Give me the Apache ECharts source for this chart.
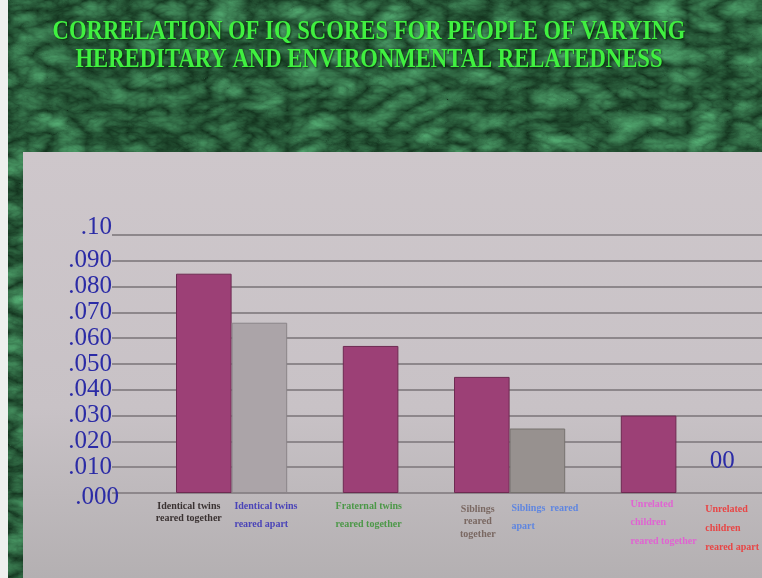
<!DOCTYPE html>
<html>
<head>
<meta charset="utf-8">
<title>Correlation of IQ scores</title>
<script src="https://cdn.jsdelivr.net/npm/echarts@6/dist/echarts.min.js"></script>
<style>
  html, body { margin: 0; padding: 0; width: 762px; height: 578px; overflow: hidden; background: #eef0ee; }
  #slide { position: absolute; left: 8px; top: 0; width: 754px; height: 578px; background-color: #1f4629; }
  #chart { position: absolute; left: 0; top: 0; width: 762px; height: 578px; }
</style>
</head>
<body>
<div id="slide"></div>
<div id="chart"></div>
<script>
// ---- chart data ----
const tickLabels = ['.000', '.010', '.020', '.030', '.040', '.050', '.060', '.070', '.080', '.090', '.10'];
const groups = [
  'Identical twins\nreared together',
  'Identical twins\nreared apart',
  'Fraternal twins\nreared together',
  'Siblings\nreared\ntogether',
  'Siblings  reared\napart',
  'Unrelated\nchildren\nreared together',
  'Unrelated\nchildren\nreared apart'
];
const correlations = [0.085, 0.066, 0.057, 0.045, 0.025, 0.030, 0.000];

// ---- layout: which slot of the bar row each group occupies ----
const slotCount = 10;
const slotOf = [0, 1, 3, 5, 6, 8, 9];

// ---- styling per group ----
const barColors = ['#9c4076', '#aba4a8', '#9c4076', '#9c4076', '#97918f', '#9c4076', '#9c4076'];
const barBorders = ['#6e2a52', '#8a8488', '#6e2a52', '#6e2a52', '#77726f', '#6e2a52', 'transparent'];
const labelColors = ['#3a3232', '#4a44b8', '#4c9848', '#7a6862', '#5f86e0', '#e064d2', '#e84646'];
const labelAlign = ['center', 'left', 'left', 'center', 'left', 'left', 'left'];
const labelOffset = [[-15, 7], [-25, 4], [-35, 4], [-4, 10], [-26, 6], [-18, 2], [1, 6]];
const labelLineHeight = [12, 18, 18, 12.5, 18, 18.5, 19];

// marbled green backdrop of the slide
(function () {
  const svg = "<svg xmlns='http://www.w3.org/2000/svg' width='754' height='578'>" +
    "<filter id='m' color-interpolation-filters='sRGB'>" +
    "<feTurbulence type='turbulence' baseFrequency='0.025 0.045' numOctaves='4' seed='7'/>" +
    "<feColorMatrix type='matrix' values='0.32 0 0 0 0.07  0.6 0 0 0 0.19  0.42 0 0 0 0.11  0 0 0 0 1'/></filter>" +
    "<rect width='100%' height='100%' filter='url(#m)'/></svg>";
  document.getElementById('slide').style.backgroundImage =
    'url("data:image/svg+xml,' + encodeURIComponent(svg) + '")';
})();

const axisCats = [];
for (let i = 0; i < slotCount; i++) {
  const g = slotOf.indexOf(i);
  axisCats.push(g >= 0 ? groups[g] : 'gap' + i);
}

const barData = [];
for (let i = 0; i < slotCount; i++) {
  const g = slotOf.indexOf(i);
  if (g < 0) { barData.push('-'); continue; }
  barData.push({
    value: correlations[g],
    itemStyle: { color: barColors[g], borderColor: barBorders[g], borderWidth: 1 },
    label: {
      show: true,
      position: 'bottom',
      distance: 0,
      align: labelAlign[g],
      verticalAlign: 'top',
      offset: labelOffset[g],
      lineHeight: labelLineHeight[g],
      color: labelColors[g],
      formatter: groups[g]
    }
  });
}

const lastG = groups.length - 1;
const yFont = { fontFamily: 'Liberation Serif', fontSize: 25, color: '#2b2ba6' };

const chart = echarts.init(document.getElementById('chart'), null, { renderer: 'canvas' });
chart.setOption({
  animation: false,
  graphic: [
    {
      type: 'rect', z: -10,
      shape: { x: 23, y: 152, width: 739, height: 426 },
      style: {
        fill: new echarts.graphic.LinearGradient(0, 0, 0, 1, [
          { offset: 0, color: '#cec7cb' },
          { offset: 0.6, color: '#c8c2c6' },
          { offset: 1, color: '#b4b0b2' }
        ])
      }
    },
    {
      type: 'text', x: 369, y: 18, scaleX: 0.84,
      style: {
        text: 'CORRELATION OF IQ SCORES FOR PEOPLE OF VARYING\nHEREDITARY AND ENVIRONMENTAL RELATEDNESS',
        fontFamily: 'Liberation Serif', fontWeight: 'bold', fontSize: 27, lineHeight: 28,
        fill: '#40f040', align: 'center', verticalAlign: 'top',
        textShadowColor: 'rgba(0,30,0,0.7)', textShadowBlur: 2, textShadowOffsetX: 1, textShadowOffsetY: 1
      }
    }
  ],
  grid: [
    { left: 112, right: 0, top: 235, bottom: 85 },
    { left: 176, right: 30, top: 235, bottom: 85 }
  ],
  xAxis: [
    { type: 'value', gridIndex: 0, show: false, min: 0, max: 1 },
    {
      type: 'category', gridIndex: 1, data: axisCats,
      axisLine: { show: false }, axisTick: { show: false }, axisLabel: { show: false }
    }
  ],
  yAxis: [
    {
      type: 'value', gridIndex: 0, min: 0, max: 0.1, interval: 0.01,
      axisLine: { show: false }, axisTick: { show: false },
      splitLine: { lineStyle: { color: '#8d878b', width: 2 } },
      axisLabel: {
        margin: -7,
        formatter: function (v) {
          const i = Math.round(v / 0.01);
          if (i === 0) return '{z|' + tickLabels[i] + '}';
          if (i === tickLabels.length - 1) return '{t|' + tickLabels[i] + '}';
          return '{n|' + tickLabels[i] + '}';
        },
        rich: {
          n: Object.assign({ padding: [0, 7, 0, 0] }, yFont),
          t: Object.assign({ padding: [0, 7, 16, 0] }, yFont),
          z: Object.assign({ padding: [8, 0, 0, 0] }, yFont)
        }
      }
    },
    { type: 'value', gridIndex: 1, min: 0, max: 0.1, show: false, splitLine: { show: false } }
  ],
  series: [
    {
      type: 'bar', xAxisIndex: 1, yAxisIndex: 1,
      barWidth: '100%', barCategoryGap: 0,
      data: barData,
      label: { fontFamily: 'Liberation Serif', fontSize: 10, fontWeight: 'bold' },
      markPoint: {
        symbol: 'circle', symbolSize: 0,
        label: {
          show: true, position: 'inside', offset: [18, -32],
          fontFamily: 'Liberation Serif', fontSize: 25, color: '#2b2ba6',
          formatter: function (p) { return p.value.toFixed(2).slice(2); }
        },
        data: [{ coord: [axisCats[slotOf[lastG]], correlations[lastG]], value: correlations[lastG] }]
      }
    }
  ]
});
</script>
</body>
</html>
